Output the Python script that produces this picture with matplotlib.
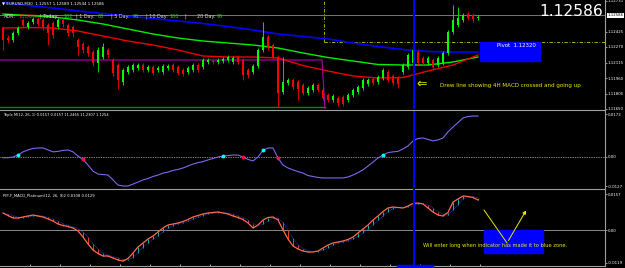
import numpy as np
import pandas as pd
import matplotlib
matplotlib.use("Agg")
from matplotlib import pyplot as plt
from matplotlib.patches import Rectangle

plt.rcParams["axes.unicode_minus"] = False

W, H = 625, 268

# EURUSD M30 candles
opens = [1.1246, 1.1236, 1.1234, 1.1241, 1.1254, 1.1247, 1.1252, 1.1255, 1.1254, 1.1249,
         1.1251, 1.1247, 1.1254, 1.1249, 1.1247, 1.1234, 1.1230, 1.1227, 1.1222, 1.1211,
         1.1217, 1.1224, 1.1214, 1.1209, 1.1192, 1.1202, 1.1204, 1.1206, 1.1209, 1.1204,
         1.1207, 1.1204, 1.1202, 1.1206, 1.1209, 1.1207, 1.1204, 1.1202, 1.1204, 1.1209,
         1.1207, 1.1212, 1.1213, 1.1212, 1.1213, 1.1214, 1.1212, 1.1217, 1.1214, 1.1204,
         1.1202, 1.1208, 1.1224, 1.1237, 1.1229, 1.1217, 1.1182, 1.1191, 1.1194, 1.1192,
         1.1189, 1.1181, 1.1184, 1.1189, 1.1184, 1.1179, 1.1174, 1.1176, 1.1177, 1.1174,
         1.1179, 1.1182, 1.1186, 1.1190, 1.1195, 1.1192, 1.1196, 1.1202, 1.1198, 1.1196,
         1.1202, 1.1207, 1.1211, 1.1222, 1.1216, 1.1211, 1.1214, 1.1209, 1.1211, 1.1221,
         1.1242, 1.1249, 1.1254, 1.1260, 1.1259, 1.1256]
closes = [1.1234, 1.1234, 1.1241, 1.1246, 1.1249, 1.1251, 1.1255, 1.1250, 1.1247, 1.1241,
          1.1239, 1.1254, 1.1250, 1.1241, 1.1241, 1.1227, 1.1224, 1.1221, 1.1211, 1.1224,
          1.1227, 1.1219, 1.1201, 1.1194, 1.1204, 1.1207, 1.1209, 1.1209, 1.1204, 1.1207,
          1.1201, 1.1206, 1.1208, 1.1208, 1.1204, 1.1201, 1.1200, 1.1206, 1.1209, 1.1204,
          1.1214, 1.1214, 1.1212, 1.1214, 1.1215, 1.1217, 1.1216, 1.1212, 1.1199, 1.1199,
          1.1208, 1.1224, 1.1237, 1.1226, 1.1217, 1.1181, 1.1192, 1.1194, 1.1187, 1.1185,
          1.1181, 1.1186, 1.1189, 1.1184, 1.1176, 1.1174, 1.1178, 1.1171, 1.1170, 1.1179,
          1.1184, 1.1187, 1.1194, 1.1194, 1.1191, 1.1197, 1.1204, 1.1194, 1.1191, 1.1190,
          1.1209, 1.1219, 1.1224, 1.1211, 1.1211, 1.1216, 1.1207, 1.1216, 1.1221, 1.1242,
          1.1254, 1.1256, 1.1259, 1.1256, 1.1255, 1.1257]
highs = [1.1248, 1.1239, 1.1243, 1.1248, 1.1256, 1.1253, 1.1257, 1.1257, 1.1256, 1.1251,
         1.1253, 1.1256, 1.1256, 1.1251, 1.1249, 1.1236, 1.1232, 1.1229, 1.1224, 1.1227,
         1.1231, 1.1226, 1.1216, 1.1211, 1.1206, 1.1209, 1.1211, 1.1211, 1.1211, 1.1209,
         1.1209, 1.1208, 1.1210, 1.1210, 1.1211, 1.1209, 1.1206, 1.1208, 1.1211, 1.1211,
         1.1216, 1.1216, 1.1215, 1.1216, 1.1217, 1.1219, 1.1218, 1.1219, 1.1216, 1.1206,
         1.1210, 1.1226, 1.1252, 1.1239, 1.1231, 1.1219, 1.1217, 1.1196, 1.1196, 1.1194,
         1.1191, 1.1188, 1.1191, 1.1191, 1.1186, 1.1181, 1.1180, 1.1178, 1.1179, 1.1181,
         1.1186, 1.1189, 1.1196, 1.1196, 1.1197, 1.1199, 1.1206, 1.1204, 1.1200, 1.1198,
         1.1211, 1.1221, 1.1226, 1.1224, 1.1218, 1.1218, 1.1216, 1.1218, 1.1223, 1.1244,
         1.1269, 1.1267, 1.1261, 1.1262, 1.1261, 1.1259]
lows = [1.1224, 1.1231, 1.1232, 1.1239, 1.1247, 1.1245, 1.1250, 1.1248, 1.1244, 1.1229,
        1.1236, 1.1245, 1.1247, 1.1238, 1.1237, 1.1219, 1.1221, 1.1218, 1.1208, 1.1202,
        1.1215, 1.1216, 1.1198, 1.1185, 1.1189, 1.1200, 1.1202, 1.1204, 1.1202, 1.1202,
        1.1199, 1.1202, 1.1200, 1.1204, 1.1202, 1.1199, 1.1198, 1.1200, 1.1202, 1.1202,
        1.1205, 1.1210, 1.1210, 1.1210, 1.1211, 1.1212, 1.1210, 1.1210, 1.1194, 1.1196,
        1.1200, 1.1206, 1.1222, 1.1224, 1.1215, 1.1167, 1.1180, 1.1189, 1.1185, 1.1174,
        1.1179, 1.1179, 1.1182, 1.1182, 1.1174, 1.1172, 1.1172, 1.1168, 1.1168, 1.1172,
        1.1177, 1.1180, 1.1184, 1.1188, 1.1189, 1.1190, 1.1194, 1.1192, 1.1189, 1.1186,
        1.1200, 1.1205, 1.1209, 1.1209, 1.1209, 1.1209, 1.1204, 1.1207, 1.1209, 1.1219,
        1.1240, 1.1247, 1.1252, 1.1254, 1.1252, 1.1254]

# moving averages, sampled every 5 bars
ma_idx = list(range(0, 96, 5))
ma_blue = [1.12715, 1.12685, 1.1266, 1.1263, 1.12605, 1.1258, 1.12555, 1.1253, 1.12505, 1.12475,
           1.1244, 1.1240, 1.12375, 1.1235, 1.1231, 1.12275, 1.12245, 1.12225, 1.1222, 1.1222]
ma_green = [1.1260, 1.12585, 1.1257, 1.1254, 1.1250, 1.1245, 1.1240, 1.1236, 1.1233, 1.1231,
            1.1229, 1.1226, 1.1221, 1.12165, 1.1213, 1.12095, 1.1209, 1.1209, 1.1212, 1.1217]
ma_red = [1.1246, 1.12465, 1.1246, 1.1243, 1.1238, 1.1233, 1.1229, 1.1224, 1.1218, 1.1217,
          1.1217, 1.1216, 1.12085, 1.1203, 1.1198, 1.1196, 1.11965, 1.1203, 1.1209, 1.1219]

last_price = 1.12586
pivot = 1.12320
level_magenta = 1.1214
level_green = 1.1167
price_ticks = [1.12731, 1.12425, 1.12270, 1.12115, 1.11960, 1.11805, 1.11650]

triple = [-0.0005, -0.0005, -0.0002, 0.0006, 0.0019, 0.0027, 0.0033, 0.0035, 0.0035, 0.0027,
          0.0019, 0.0021, 0.0025, 0.0027, 0.0019, 0.0002, -0.0012, -0.0035, -0.0060, -0.0072,
          -0.0074, -0.0076, -0.0096, -0.0117, -0.0121, -0.0121, -0.0113, -0.0105, -0.0096, -0.0090,
          -0.0082, -0.0076, -0.0068, -0.0064, -0.0057, -0.0053, -0.0047, -0.0039, -0.0031, -0.0025,
          -0.0021, -0.0014, -0.0008, -0.0002, 0.0002, 0.0004, 0.0006, 0.0006, -0.0002, -0.0012,
          -0.0018, -0.0002, 0.0025, 0.0035, 0.0035, -0.0006, -0.0035, -0.0047, -0.0055, -0.0062,
          -0.0068, -0.0078, -0.0082, -0.0086, -0.0088, -0.0088, -0.0088, -0.0088, -0.0088, -0.0084,
          -0.0076, -0.0066, -0.0055, -0.0039, -0.0023, -0.0006, 0.0006, 0.0016, 0.0019, 0.0021,
          0.0031, 0.0043, 0.0064, 0.0074, 0.0076, 0.0070, 0.0064, 0.0068, 0.0076, 0.0101,
          0.0121, 0.0139, 0.0158, 0.0164, 0.0166, 0.0166]

macd = [0.0068, 0.0058, 0.0048, 0.0048, 0.0052, 0.0056, 0.0060, 0.0056, 0.0052, 0.0044,
        0.0036, 0.0024, 0.0018, 0.0014, 0.0008, -0.0004, -0.0028, -0.0056, -0.0080, -0.0094,
        -0.0104, -0.0104, -0.0112, -0.0120, -0.0124, -0.0114, -0.0092, -0.0068, -0.0052, -0.0036,
        -0.0024, -0.0008, 0.0008, 0.0020, 0.0024, 0.0028, 0.0034, 0.0042, 0.0052, 0.0058,
        0.0064, 0.0068, 0.0070, 0.0072, 0.0068, 0.0064, 0.0056, 0.0050, 0.0042, 0.0028,
        0.0008, 0.0020, 0.0040, 0.0050, 0.0052, 0.0040, 0.0000, -0.0036, -0.0064, -0.0076,
        -0.0084, -0.0088, -0.0088, -0.0084, -0.0072, -0.0060, -0.0052, -0.0048, -0.0044, -0.0038,
        -0.0028, -0.0012, 0.0004, 0.0020, 0.0040, 0.0056, 0.0074, 0.0088, 0.0092, 0.0090,
        0.0088, 0.0096, 0.0106, 0.0108, 0.0104, 0.0088, 0.0072, 0.0060, 0.0056, 0.0070,
        0.0112, 0.0124, 0.0136, 0.0134, 0.0130, 0.0120]

cross_bar = 82.2


def box(x0, y0, x1, y1):
    return [x0 / W, 1 - y1 / H, (x1 - x0) / W, (y1 - y0) / H]


def fpos(x, y):
    return x / W, 1 - y / H


def style(ax, top=True, bottom=False):
    ax.set_facecolor("black")
    ax.set_xlim(-0.6, 120.4)
    ax.spines["left"].set_visible(False)
    ax.spines["right"].set_color("#a0a0a0")
    ax.spines["top"].set_visible(top)
    ax.spines["top"].set_color("#a0a0a0")
    ax.spines["bottom"].set_visible(bottom)
    ax.spines["bottom"].set_color("#a0a0a0")
    for s in ax.spines.values():
        s.set_linewidth(0.8)
    ax.yaxis.tick_right()
    ax.tick_params(axis="y", colors="white", labelsize=2.8, length=1.5, width=0.4, pad=0.6)
    ax.set_xticks([])


fig = plt.figure(figsize=(W / 100, H / 100), dpi=100, facecolor="black")

# ---- price panel
ax1 = fig.add_axes(box(0, 0, 605, 109))
style(ax1, top=False)
ax1.set_ylim(1.1165, 1.1274)
ax1.set_yticks(price_ticks)
ax1.set_yticklabels(["%.5f" % p for p in price_ticks])

x = np.arange(len(opens))
o = np.array(opens)
c = np.array(closes)
cols = np.where(c >= o, "#00ff00", "#ff0000")
ax1.vlines(x, lows, highs, colors=cols, lw=0.6, zorder=3)
body = np.where(np.abs(c - o) < 0.00003, 0.00003, c - o)
ax1.bar(x, body, bottom=o, width=0.5, color=cols, lw=0, zorder=3)

ax1.plot(ma_idx, ma_blue, color="#0000ff", lw=1.2, zorder=2)
ax1.plot(ma_idx, ma_green, color="#00ee00", lw=1.0, zorder=2)
ax1.plot(ma_idx, ma_red, color="#ee0000", lw=1.0, zorder=2)

ax1.axhline(last_price, color="#8a8a8a", lw=0.6, zorder=1)
ax1.plot([-0.6, 63.8, 64.4], [level_magenta, level_magenta, 1.1165], color="#b400b4", lw=0.8, zorder=1)
ax1.plot([-0.6, 64.4], [level_green, level_green], color="#008c00", lw=1.0, zorder=1)
dd = (0, (4, 2, 1, 2))
ax1.plot([64.2, 64.2], [pivot, 1.1274], color="#c8c800", lw=0.6, ls=dd, zorder=1)
ax1.plot([64.2, 120.4], [pivot, pivot], color="#c8c800", lw=0.6, ls=dd, zorder=1)
ax1.axvline(cross_bar, color="#0000ff", lw=1.4, zorder=4)

ax1.add_patch(Rectangle((95.4, 1.1213), 12, 0.0019, color="#0000ff", zorder=5))
ax1.text(98.8, 1.12285, "Pivot  1.12320", color="white", fontsize=3.9, va="center", zorder=6)
ax1.text(1.004, last_price, "1.12586", transform=ax1.get_yaxis_transform(), fontsize=2.8,
         color="black", va="center", ha="left",
         bbox=dict(boxstyle="square,pad=0.15", fc="white", ec="none"))

# ---- Triple M panel
ax2 = fig.add_axes(box(0, 110, 605, 188))
style(ax2)
ax2.set_ylim(-0.012915, 0.019065)
ax2.set_yticks([0.0174, 0, -0.0121])
ax2.set_yticklabels(["0.0173", "0.00", "-0.0127"])
ax2.axhline(0, color="white", lw=0.5, ls=(0, (1, 1.5)))
ax2.plot(x, triple, color="#7b68ee", lw=0.8)
t = np.array(triple)
up = [i for i in range(1, len(t)) if t[i - 1] <= 0 < t[i]]
dn = [i for i in range(1, len(t)) if t[i - 1] > 0 >= t[i]]
ax2.plot(up, t[up], "o", color="#00ffff", ms=2.8, mew=0, zorder=4)
ax2.plot(dn, t[dn], "o", color="#ff1044", ms=2.8, mew=0, zorder=4)
ax2.axvline(cross_bar, color="#0000ff", lw=1.4)

# ---- MACD panel
ax3 = fig.add_axes(box(0, 189, 605, 266))
style(ax3, bottom=True)
ax3.set_ylim(-0.0144, 0.0164)
ax3.set_yticks([0.0144, 0, -0.0132])
ax3.set_yticklabels(["0.0157", "0.00", "-0.0119"])
ax3.set_xticks(np.arange(5.4, 100, 6))
ax3.tick_params(axis="x", colors="white", length=1.5, width=0.5, direction="in", labelbottom=False)
ax3.axhline(0, color="#8a8a8a", lw=0.7)
m = np.array(macd)
sig = pd.Series(m).rolling(3, min_periods=1).mean().values
hcol = np.where(m >= sig, "#20b2aa", "#e8401c")
ax3.vlines(x, sig, m, colors=hcol, lw=0.7)
ax3.plot(x, sig, color="#3050ff", lw=0.5, ls=(0, (1, 1)))
ax3.plot(x, m, color="#ff6a50", lw=0.9)
ax3.axvline(cross_bar, color="#0000ff", lw=1.4, zorder=4)
ax3.add_patch(Rectangle((96.2, -0.0092), 11.8, 0.0092, color="#0000ff", zorder=2))
ax3.plot([96.2, 100.8], [0.0080, -0.0052], color="#e8e800", lw=0.7, zorder=5)
ax3.annotate("", xy=(104.9, 0.0088), xytext=(100.8, -0.0052),
             arrowprops=dict(arrowstyle="-|>", color="#e8e800", lw=0.7, mutation_scale=5), zorder=5)
ax3.text(84.0, -0.0060, "Will enter long when indicator has made it to blue zone.",
         color="#e8e800", fontsize=3.7, va="center", zorder=6)

# ---- texts on top
fig.text(*fpos(2, 3.5), "\u25bc EURUSD,M30  1.12557 1.12589 1.12544 1.12586", color="white",
         fontsize=2.9, va="center")
hdr = [(4, "ADR:", "#d8d8d8"), (18, "101/0%", "#ff2020"), (40, "| Today:", "#d8d8d8"),
       (63, "102", "#20d020"), (76, "| 1 Day:", "#d8d8d8"), (98, "88", "#20d020"),
       (111, "| 5 Day:", "#d8d8d8"), (133, "96", "#20d020"), (146, "| 10 Day:", "#d8d8d8"),
       (169, "100", "#20d020"), (184, "|", "#d8d8d8"), (197, "20 Day:", "#d8d8d8"),
       (215, "96", "#20d020")]
renderer = fig.canvas.get_renderer()
prev_end = 0
for hx, s, col in hdr:
    hx = max(hx, prev_end + 1.5)
    ht = fig.text(*fpos(hx, 16.5), s, color=col, fontsize=3.5, va="center")
    prev_end = ht.get_window_extent(renderer).x1
fig.text(*fpos(603, 12), "1.12586", color="white", fontsize=11.2, ha="right", va="center")
fig.text(*fpos(416, 84.5), "\u21d0", color="#e8e800", fontsize=9, va="center")
fig.text(*fpos(440, 85), "Drew line showing 4H MACD crossed and going up", color="#e8e800",
         fontsize=4.1, va="center")
fig.text(*fpos(3, 115), "Triple M(12, 26, 1) 0.0157 0.0157 11.2465 11.2307 1.1254", color="white",
         fontsize=2.6, va="center")
fig.text(*fpos(3, 195), "PIP-F_MACD_Platinum(12, 26, 9)2 0.0108 0.0129", color="white",
         fontsize=2.7, va="center")
fig.patches.append(Rectangle(fpos(397, 268), 36 / W, 3 / H, transform=fig.transFigure,
                             color="#0000ff", zorder=5))

fig.savefig("out.png", dpi=100, facecolor="black")
